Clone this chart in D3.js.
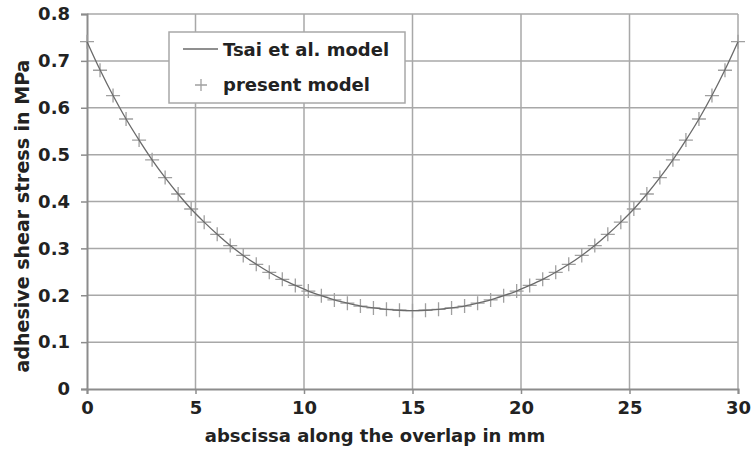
<!DOCTYPE html>
<html>
<head>
<meta charset="utf-8">
<script src="https://cdn.jsdelivr.net/npm/d3@7"></script>
<style>
  body { margin: 0; background: #fff; }
  svg { display: block; font-family: "DejaVu Sans", Verdana, sans-serif; font-weight: bold; }
</style>
</head>
<body>
<div id="chart"></div>
<script>
const width = 754, height = 454;
const margin = {top: 14, right: 16, bottom: 65, left: 87};

// abscissa (mm) of the computed points
var abscissa = [0, 0.6, 1.2, 1.8, 2.4, 3, 3.6, 4.2, 4.8, 5.4, 6, 6.6, 7.2, 7.8, 8.4, 9, 9.6, 10.2, 10.8, 11.4,
                12, 12.6, 13.2, 13.8, 14.4, 15, 15.6, 16.2, 16.8, 17.4, 18, 18.6, 19.2, 19.8, 20.4, 21, 21.6,
                22.2, 22.8, 23.4, 24, 24.6, 25.2, 25.8, 26.4, 27, 27.6, 28.2, 28.8, 29.4, 30];
// adhesive shear stress (MPa), Tsai et al. model
var tsaiModel = [0.741, 0.681, 0.626, 0.576, 0.531, 0.489, 0.451, 0.416, 0.384, 0.356, 0.330, 0.306, 0.285,
                 0.266, 0.249, 0.234, 0.221, 0.209, 0.199, 0.190, 0.183, 0.177, 0.173, 0.170, 0.168, 0.167,
                 0.168, 0.170, 0.173, 0.177, 0.183, 0.190, 0.199, 0.209, 0.221, 0.234, 0.249, 0.266, 0.285,
                 0.306, 0.330, 0.356, 0.384, 0.416, 0.451, 0.489, 0.531, 0.576, 0.626, 0.681, 0.741];
// adhesive shear stress (MPa), present model
var presentModel = [0.741, 0.680, 0.626, 0.576, 0.531, 0.489, 0.451, 0.416, 0.384, 0.356, 0.330, 0.306, 0.285,
                    0.266, 0.249, 0.234, 0.221, 0.209, 0.199, 0.190, 0.183, 0.177, 0.173, 0.170, 0.168, 0.167,
                    0.168, 0.170, 0.173, 0.177, 0.183, 0.190, 0.199, 0.209, 0.221, 0.234, 0.249, 0.266, 0.285,
                    0.306, 0.330, 0.356, 0.384, 0.416, 0.451, 0.489, 0.531, 0.576, 0.626, 0.680, 0.741];
var xTicks = [0, 5, 10, 15, 20, 25, 30];
var yTicks = [0, 0.1, 0.2, 0.3, 0.4, 0.5, 0.6, 0.7, 0.8];
var seriesNames = ["Tsai et al. model", "present model"];

let svg = d3.select("#chart")
    .append("svg")
    .attr("width", width)
    .attr("height", height);

let x = d3.scaleLinear()
    .domain([0, 30])
    .range([margin.left, width - margin.right]);

let y = d3.scaleLinear()
    .domain([0, 0.8])
    .range([height - margin.bottom, margin.top]);

// grid
let grid = svg.append("g");
grid.selectAll("line.v")
    .data(xTicks.slice(1))
    .enter()
    .append("line")
    .attr("x1", d => x(d)).attr("x2", d => x(d))
    .attr("y1", y(0)).attr("y2", y(0.8))
    .style("stroke", "#a8a8a8")
    .style("stroke-width", 1.5);
grid.selectAll("line.h")
    .data(yTicks.slice(1))
    .enter()
    .append("line")
    .attr("x1", x(0)).attr("x2", x(30))
    .attr("y1", d => y(d)).attr("y2", d => y(d))
    .style("stroke", "#a8a8a8")
    .style("stroke-width", 1.5);

// axes
let yAxis = svg.append("g")
    .attr("transform", `translate(${x(0)}, 0)`)
    .call(d3.axisLeft(y).tickValues(yTicks).tickSize(6).tickPadding(11)
        .tickFormat(d => d === 0 ? "0" : d.toFixed(1)));
let xAxis = svg.append("g")
    .attr("transform", `translate(0, ${y(0)})`)
    .call(d3.axisBottom(x).tickValues(xTicks).tickSize(5).tickPadding(7)
        .tickFormat(d3.format("d")));

[xAxis, yAxis].forEach(function(a) {
    a.select(".domain").style("stroke", "#8c8c8c").style("stroke-width", 2);
    a.selectAll(".tick line").style("stroke", "#8c8c8c").style("stroke-width", 1.5);
    a.selectAll("text")
        .style("font-family", "'DejaVu Sans', sans-serif")
        .style("font-weight", "bold")
        .style("font-size", "18px")
        .style("fill", "#222");
});

// present model markers
function plusPath(s) {
    return `M${-s},0H${s}M0,${-s}V${s}`;
}
svg.append("g")
    .selectAll("path")
    .data(abscissa)
    .enter()
    .append("path")
    .attr("transform", (d, i) => `translate(${x(d)}, ${y(presentModel[i])})`)
    .attr("d", plusPath(7))
    .style("fill", "none")
    .style("stroke", "#a0a0a0")
    .style("stroke-width", 1.3);

// Tsai et al. line
let line = d3.line()
    .x((d, i) => x(abscissa[i]))
    .y(d => y(d))
    .curve(d3.curveMonotoneX);
svg.append("path")
    .datum(tsaiModel)
    .attr("d", line)
    .style("fill", "none")
    .style("stroke", "#6a6a6a")
    .style("stroke-width", 1.3);

// legend
let legend = svg.append("g");
legend.append("rect")
    .attr("x", 169).attr("y", 32)
    .attr("width", 236).attr("height", 71)
    .style("fill", "#fff")
    .style("stroke", "#a8a8a8")
    .style("stroke-width", 1.5);
legend.append("line")
    .attr("x1", 183).attr("x2", 218)
    .attr("y1", 49).attr("y2", 49)
    .style("stroke", "#6a6a6a")
    .style("stroke-width", 1.3);
legend.append("path")
    .attr("transform", "translate(201, 85)")
    .attr("d", plusPath(6))
    .style("fill", "none")
    .style("stroke", "#a0a0a0")
    .style("stroke-width", 1.3);
legend.selectAll("text")
    .data(seriesNames)
    .enter()
    .append("text")
    .attr("x", 223)
    .attr("y", (d, i) => 56 + i * 35)
    .style("font-size", "18px")
    .style("fill", "#222")
    .text(d => d);

// axis titles
svg.append("text")
    .attr("x", 375)
    .attr("y", 442)
    .style("text-anchor", "middle")
    .style("font-size", "18px")
    .style("fill", "#222")
    .text("abscissa along the overlap in mm");

svg.append("text")
    .attr("transform", `translate(29, 216) rotate(-90)`)
    .style("text-anchor", "middle")
    .style("font-size", "19px")
    .style("fill", "#222")
    .text("adhesive shear stress in MPa");
</script>
</body>
</html>
